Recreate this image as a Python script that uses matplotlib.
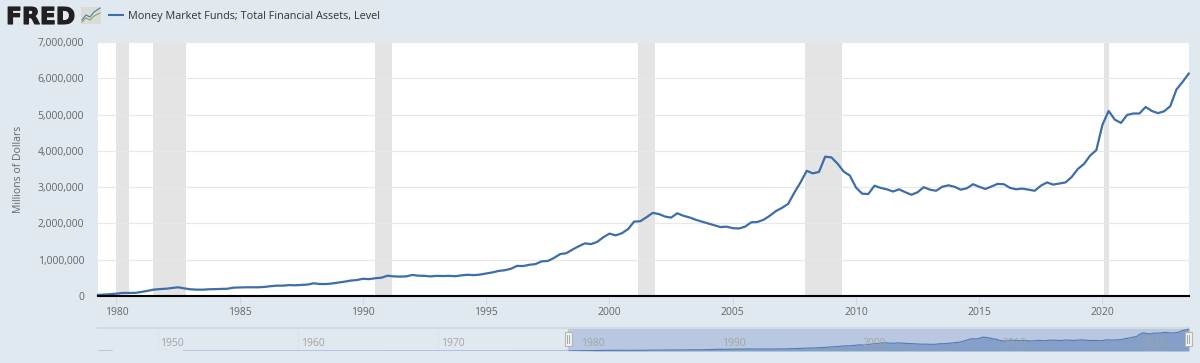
import numpy as np
import matplotlib
matplotlib.use('Agg')
import matplotlib.pyplot as plt
import matplotlib.patheffects as pe

plt.rcParams['font.family'] = ['Open Sans', 'DejaVu Sans']

# quarterly level, millions of dollars, first point is 1979 Q2
values = [
    30000, 40000, 50000,
    65000, 85000, 85000, 85000,
    110000, 140000, 175000, 190000,
    200000, 220000, 240000, 210000,
    185000, 175000, 175000, 185000,
    190000, 195000, 200000, 230000,
    235000, 240000, 240000, 240000,
    250000, 270000, 285000, 285000,
    300000, 295000, 305000, 315000,
    350000, 330000, 330000, 345000,
    370000, 395000, 425000, 440000,
    475000, 465000, 490000, 505000,
    560000, 540000, 535000, 540000,
    580000, 560000, 555000, 540000,
    555000, 550000, 555000, 545000,
    570000, 585000, 575000, 590000,
    620000, 650000, 690000, 710000,
    750000, 830000, 825000, 860000,
    880000, 955000, 965000, 1050000,
    1155000, 1180000, 1280000, 1370000,
    1450000, 1430000, 1490000, 1620000,
    1720000, 1670000, 1730000, 1840000,
    2050000, 2060000, 2170000, 2290000,
    2260000, 2190000, 2160000, 2280000,
    2210000, 2165000, 2100000, 2050000,
    2000000, 1950000, 1900000, 1910000,
    1870000, 1860000, 1910000, 2030000,
    2040000, 2100000, 2210000, 2340000,
    2430000, 2540000, 2850000, 3130000,
    3450000, 3380000, 3420000, 3840000,
    3820000, 3650000, 3430000, 3320000,
    2990000, 2820000, 2810000, 3040000,
    2980000, 2940000, 2880000, 2940000,
    2860000, 2790000, 2860000, 3000000,
    2930000, 2900000, 3010000, 3050000,
    3010000, 2930000, 2970000, 3080000,
    3010000, 2950000, 3020000, 3090000,
    3080000, 2980000, 2940000, 2960000,
    2930000, 2900000, 3040000, 3130000,
    3070000, 3100000, 3130000, 3280000,
    3500000, 3640000, 3870000, 4020000,
    4720000, 5100000, 4860000, 4770000,
    4990000, 5030000, 5030000, 5210000,
    5100000, 5040000, 5090000, 5230000,
    5690000, 5900000, 6130000,
]
start_year = 1979.25
years = start_year + np.arange(len(values)) * 0.25

# recession bands, start and end as fractional years
recession_starts = [1980.0, 1981.5, 1990.5, 2001.17, 2007.92, 2020.08]
recession_ends = [1980.5, 1982.83, 1991.17, 2001.83, 2009.42, 2020.25]

y_ticks = [0, 1000000, 2000000, 3000000, 4000000, 5000000, 6000000, 7000000]
x_ticks = [1980, 1985, 1990, 1995, 2000, 2005, 2010, 2015, 2020]
nav_ticks = [1950, 1960, 1970, 1980, 1990, 2000, 2010, 2020]

# navigator series before the main range, only a flat trace near zero
nav_early_years = [1945.75, 1946.75, np.nan, 1951.85, 1979.25]
nav_early_values = [0, 0, np.nan, 0, 30000]

BG = '#e1e9f0'
BLUE = '#3d6ea8'
W, H = 1200, 363
FS = 7.5


def px_axes(x0, y0, x1, y1):
    # axes from pixel box, y measured from the top of the picture
    return fig.add_axes([x0 / W, (H - y1) / H, (x1 - x0) / W, (y1 - y0) / H])


fig = plt.figure(figsize=(12, 3.63), dpi=100, facecolor=BG)

# main chart
ax = px_axes(98, 42, 1189, 296)
ax.set_xlim(start_year, 2023.51)
ax.set_ylim(0, 7000000)
for a, b in zip(recession_starts, recession_ends):
    ax.axvspan(a, b, color='#e4e4e4', lw=0, zorder=1)
ax.set_yticks(y_ticks)
ax.set_yticklabels([f'{v:,}' for v in y_ticks], color='#666666', fontsize=FS)
ax.set_xticks(x_ticks)
ax.set_xticklabels([str(v) for v in x_ticks], color='#666666', fontsize=FS)
ax.grid(axis='y', color='#e8e8e8', lw=0.9, zorder=2)
ax.tick_params(axis='y', length=0, pad=10)
ax.tick_params(axis='x', length=6, width=0.8, color='#ccd6eb', pad=2)
for s in ax.spines.values():
    s.set_visible(False)
ax.plot(years, values, color=BLUE, lw=1.6, zorder=4, clip_on=False,
        solid_joinstyle='round')
ax.axhline(0, color='black', lw=1.5, zorder=5, clip_on=False)
ax.set_ylabel('Millions of Dollars', color='#666666', fontsize=FS)
ax.yaxis.set_label_coords((24 - 98) / 1091, 0.5)

# navigator strip
nav = px_axes(98, 328, 1189, 351)
nav.set_facecolor('none')
nav.set_xlim(1945.75, 2023.5)
nav.set_ylim(0, 6430000)
nav.axvspan(start_year, 2023.5, color='#b9c8e1', lw=0, zorder=1)
nav.fill_between(years, values, 0, color='#84a0c8', lw=0, zorder=2)
nav.plot(years, values, color='#4f7ab3', lw=0.8, zorder=3)
nav.plot(nav_early_years, nav_early_values, color='#a4b8d6', lw=1, zorder=3)
nav.set_xticks([])
nav.set_yticks([])
for t in nav_ticks:
    nav.axvline(t, color='#dbe3ea', lw=0.6, zorder=0)
    nav.annotate(str(t), xy=(t, 0), xycoords=('data', 'axes fraction'),
                 xytext=(2, 1.5), textcoords='offset points', color='#a3a3a3',
                 fontsize=FS, ha='left', va='bottom', zorder=6)
for s in ['left', 'right', 'bottom']:
    nav.spines[s].set_visible(False)
nav.spines['top'].set_color('#d3dae2')
nav.spines['top'].set_linewidth(1.5)

# header and small pieces placed in picture pixels
top = fig.add_axes([0, 0, 1, 1], facecolor='none')
top.set_xlim(0, W)
top.set_ylim(H, 0)
top.axis('off')
top.text(6, 24, 'FRED', family=['DejaVu Sans'], fontweight='bold', fontsize=16.8,
         color='#231f20', va='baseline', ha='left',
         path_effects=[pe.withStroke(linewidth=0.8, foreground='#231f20')])
top.add_patch(plt.Rectangle((81, 7), 20, 17, color='#d9dcd8', lw=0))
top.plot([82, 86, 90, 94, 100], [20, 15, 17, 12, 8], color='#4a78b0', lw=0.8)
top.plot([82, 86, 90, 94, 100], [22, 18, 20, 16, 13], color='#8aa84f', lw=0.8)
top.plot([109, 123], [15, 15], color=BLUE, lw=1.5)
top.text(128, 16.5, 'Money Market Funds; Total Financial Assets, Level',
         color='#333333', fontsize=7.8, va='center', ha='left')
for hx in [568, 1188]:
    top.add_patch(plt.Rectangle((hx - 3.5, 332), 7, 14, fc='#f2f2f2', ec='#b5b5b5',
                                lw=0.8, zorder=8))
    top.plot([hx - 1, hx - 1], [335, 343], color='#999999', lw=0.6, zorder=9)
    top.plot([hx + 1, hx + 1], [335, 343], color='#999999', lw=0.6, zorder=9)

fig.savefig('out.png', dpi=100, facecolor=BG)
